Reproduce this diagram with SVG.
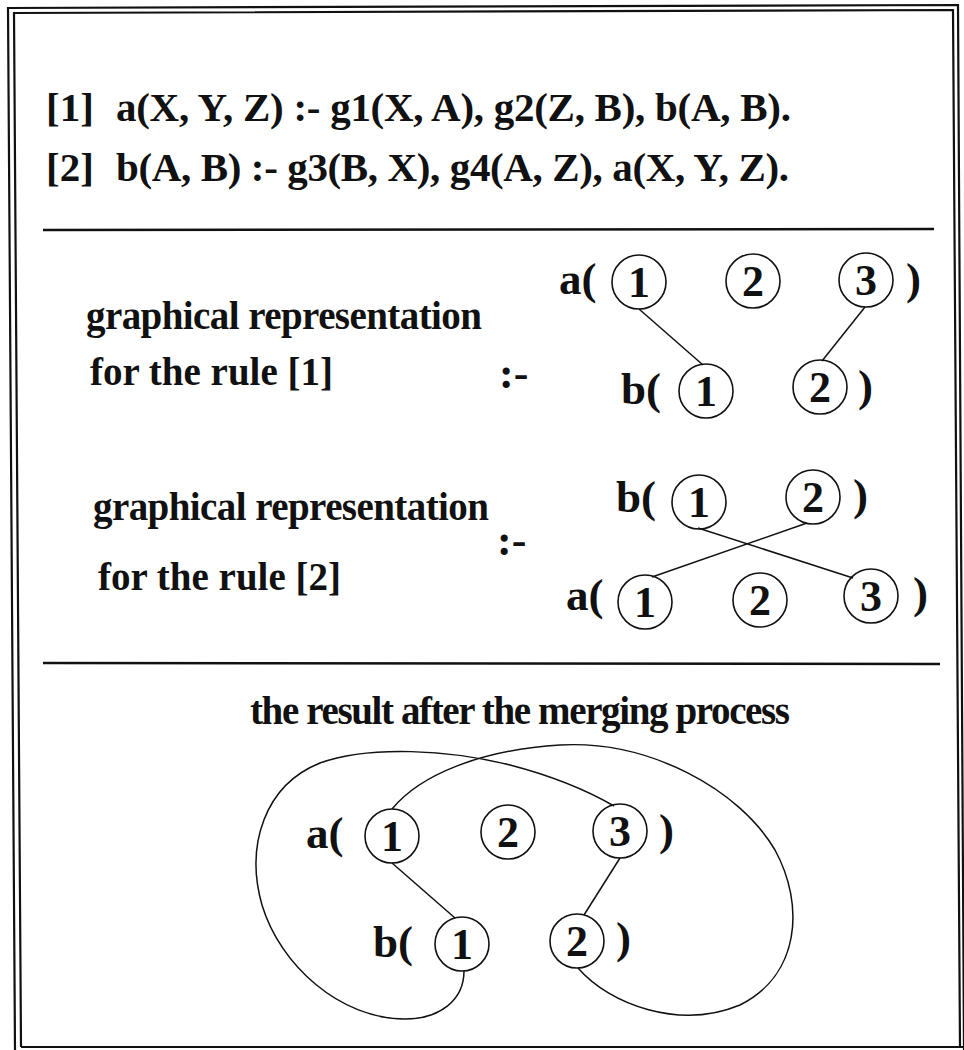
<svg xmlns="http://www.w3.org/2000/svg" width="964" height="1050" viewBox="0 0 964 1050">
  <style>
    .t { font-family: "Liberation Serif", "Times New Roman", serif; font-weight: bold; fill: #111; }
    .h { font-size: 41px; }
    .m { font-size: 39px; }
    .g { font-size: 45px; }
    .d { font-size: 44px; text-anchor: middle; }
    .c { fill: none; stroke: #111; stroke-width: 1.6; }
    .ln { fill: none; stroke: #111; stroke-width: 1.5; }
    .fr { fill: none; stroke: #111; stroke-width: 2.2; }
    .sep { stroke: #111; stroke-width: 2.4; }
  </style>
  <rect width="964" height="1050" fill="#fff"/>

  <g id="frame">
    <path class="fr" d="M15,1050 L8,8 L958,5 L964,1050"/>
    <path class="fr" d="M21,1047 L14,13 L953,10 L960,1047"/>
    <line class="fr" x1="21" y1="1047" x2="964" y2="1047" stroke-width="3"/>
    <line class="sep" x1="43" y1="230" x2="934" y2="229"/>
    <line class="sep" x1="43" y1="663" x2="940" y2="664"/>
  </g>

  <g id="rules">
    <text class="t h" x="46" y="121">[1]</text>
    <text class="t h" x="116" y="121" textLength="675">a(X, Y, Z) :- g1(X, A), g2(Z, B), b(A, B).</text>
    <text class="t h" x="46" y="181">[2]</text>
    <text class="t h" x="116" y="181" textLength="673">b(A, B) :- g3(B, X), g4(A, Z), a(X, Y, Z).</text>
  </g>

  <g id="rule1-label">
    <text class="t m" x="86" y="329" textLength="396">graphical representation</text>
    <text class="t m" x="90" y="385">for the rule [1]</text>
    <text class="t" x="499" y="388" font-size="44">:-</text>
  </g>

  <g id="rule1-graph">
    <text class="t g" x="559" y="294">a(</text>
    <circle class="c" cx="639" cy="282" r="27"/><text class="t d" x="639" y="297">1</text>
    <circle class="c" cx="753" cy="281" r="27"/><text class="t d" x="753" y="296">2</text>
    <circle class="c" cx="866" cy="280" r="27"/><text class="t d" x="866" y="295">3</text>
    <text class="t g" x="906" y="294">)</text>
    <text class="t g" x="621" y="404">b(</text>
    <circle class="c" cx="706" cy="391" r="27"/><text class="t d" x="706" y="406">1</text>
    <circle class="c" cx="820" cy="387" r="27"/><text class="t d" x="820" y="402">2</text>
    <text class="t g" x="858" y="401">)</text>
  </g>

  <g id="rule2-label">
    <text class="t m" x="93" y="520" textLength="396">graphical representation</text>
    <text class="t m" x="98" y="590">for the rule [2]</text>
    <text class="t" x="497" y="555" font-size="44">:-</text>
  </g>

  <g id="rule2-graph">
    <text class="t g" x="616" y="512">b(</text>
    <circle class="c" cx="699" cy="502" r="27"/><text class="t d" x="699" y="517">1</text>
    <circle class="c" cx="813" cy="497" r="27"/><text class="t d" x="813" y="512">2</text>
    <text class="t g" x="853" y="510">)</text>
    <text class="t g" x="566" y="610">a(</text>
    <circle class="c" cx="645" cy="602" r="27"/><text class="t d" x="645" y="617">1</text>
    <circle class="c" cx="760" cy="600" r="27"/><text class="t d" x="760" y="615">2</text>
    <circle class="c" cx="871" cy="596" r="27"/><text class="t d" x="871" y="611">3</text>
    <text class="t g" x="913" y="608">)</text>
  </g>

  <g id="result-title">
    <text class="t m" x="250" y="724" textLength="540">the result after the merging process</text>
  </g>

  <g id="result-graph">
    <text class="t g" x="306" y="848">a(</text>
    <circle class="c" cx="392" cy="836" r="27"/><text class="t d" x="392" y="851">1</text>
    <circle class="c" cx="508" cy="832" r="27"/><text class="t d" x="508" y="847">2</text>
    <circle class="c" cx="620" cy="831" r="27"/><text class="t d" x="620" y="846">3</text>
    <text class="t g" x="659" y="845">)</text>
    <text class="t g" x="373" y="957">b(</text>
    <circle class="c" cx="462" cy="944" r="27"/><text class="t d" x="462" y="959">1</text>
    <circle class="c" cx="577" cy="941" r="27"/><text class="t d" x="577" y="956">2</text>
    <text class="t g" x="616" y="953">)</text>
  </g>

  <g id="connectors">
    <line class="ln" x1="639" y1="309" x2="703" y2="365"/>
    <line class="ln" x1="865" y1="307" x2="822" y2="361"/>
    <line class="ln" x1="698" y1="528" x2="853" y2="578"/>
    <line class="ln" x1="807" y1="523" x2="652" y2="577"/>
    <line class="ln" x1="392" y1="863" x2="455" y2="918"/>
    <line class="ln" x1="620" y1="858" x2="584" y2="915"/>
    <path class="ln" d="M464,971 C464,1000 440,1019 405,1019 C340,1019 280,965 262,905 C245,845 265,785 320,763 C370,745 450,750 510,765 C560,778 595,795 614,806"/>
    <path class="ln" d="M392,809 C420,775 480,750 560,745 C650,740 740,790 775,850 C805,905 800,975 740,1005 C680,1030 610,1005 578,968"/>
  </g>
</svg>
